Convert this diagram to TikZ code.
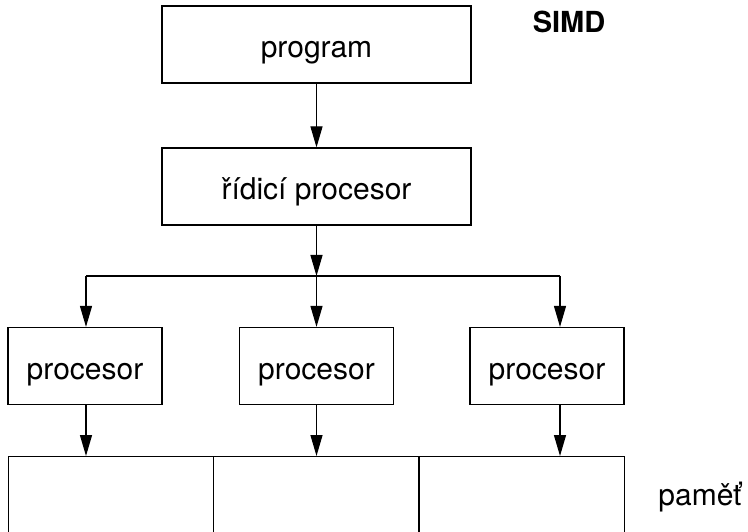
\documentclass[tikz,border=0pt]{standalone}
\usepackage{fontspec}
\setmainfont{TeX Gyre Heros}
\usetikzlibrary{arrows.meta}
\usetikzlibrary{positioning}

\begin{document}
\begin{tikzpicture}[x=1pt,y=-1pt,
    line width=1.2pt,
    box/.style={draw, inner sep=0pt, minimum height=77pt, text height=30pt, text depth=3pt,
      font=\fontsize{30}{36}\selectfont},
    cell/.style={draw, inner sep=0pt, minimum width=205.5pt, minimum height=120pt, anchor=north},
    arr/.style={-{Triangle[length=21pt,width=12pt]}}]

      \clip (0,0) rectangle (748,532);

      \node[box, minimum width=309pt] (prog) at (316.5,44.5) {program};
      \node[box, minimum width=309pt] (ctrl) at (316.5,186.5) {řídicí procesor};

      \node[box, minimum width=154pt] (p1) at (85,366) {procesor};
      \node[box, minimum width=154pt] (p2) at (316.5,366) {procesor};
      \node[box, minimum width=154pt] (p3) at (547,366) {procesor};

      \node[cell] (m1) at (111,456) {};
      \node[cell] (m2) at (316.5,456) {};
      \node[cell] (m3) at (521.5,456) {};

      \node[font=\fontsize{29}{34}\selectfont\bfseries] (simd) at (569,22) {SIMD};
      \node[font=\fontsize{30}{36}\selectfont] (mem) at (700,497) {paměť};

      \coordinate (b1) at (86,276);
      \coordinate (b3) at (560,276);

      \draw[arr] (prog) -- (ctrl);
      \draw[arr] (ctrl.south) -- (ctrl.south |- b1);
      \draw (b1) -- (b3);

      \draw[arr] (b1) -- (b1 |- p1.north);
      \draw[arr] (ctrl.south |- b1) -- (p2.north);
      \draw[arr] (b3) -- (b3 |- p3.north);

      \draw[arr] (p1.south -| b1) -- (b1 |- m1.north);
      \draw[arr] (p2.south) -- (p2.south |- m2.north);
      \draw[arr] (p3.south -| b3) -- (b3 |- m3.north);
    \end{tikzpicture}
\end{document}
